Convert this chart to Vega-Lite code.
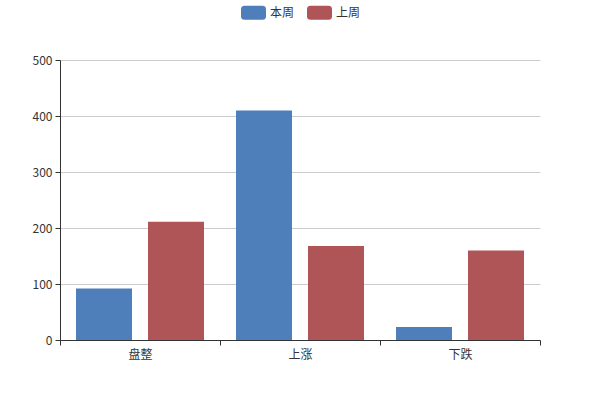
{
  "$schema": "https://vega.github.io/schema/vega-lite/v6.json",
  "width": 480,
  "height": 280,
  "padding": {"left": 60, "top": 60, "right": 60, "bottom": 60},
  "autosize": {"type": "none"},
  "background": "#ffffff",
  "config": {
    "view": {"stroke": null},
    "font": "Noto Sans CJK SC",
    "axis": {"labelFont": "Noto Sans CJK SC", "labelFontSize": 12, "labelColor": "#333333", "domainColor": "#333333", "tickColor": "#333333", "tickSize": 5}
  },
  "data": {
    "values": [
      {"category": "盘整", "series": "本周", "value": 92},
      {"category": "盘整", "series": "上周", "value": 211},
      {"category": "上涨", "series": "本周", "value": 410},
      {"category": "上涨", "series": "上周", "value": 168},
      {"category": "下跌", "series": "本周", "value": 23},
      {"category": "下跌", "series": "上周", "value": 160}
    ]
  },
  "mark": {"type": "bar"},
  "encoding": {
    "x": {
      "field": "category",
      "type": "nominal",
      "sort": ["盘整", "上涨", "下跌"],
      "scale": {"paddingInner": 0, "paddingOuter": 0},
      "axis": {"title": null, "labelAngle": 0, "tickBand": "extent", "labelPadding": 4, "grid": false}
    },
    "xOffset": {
      "field": "series",
      "type": "nominal",
      "sort": ["本周", "上周"],
      "scale": {"paddingInner": 0.2222, "paddingOuter": 0.2222}
    },
    "y": {
      "field": "value",
      "type": "quantitative",
      "scale": {"domain": [0, 500], "nice": false},
      "axis": {"title": null, "values": [0, 100, 200, 300, 400, 500], "gridColor": "#cccccc", "labelPadding": 3}
    },
    "color": {
      "field": "series",
      "type": "nominal",
      "sort": ["本周", "上周"],
      "scale": {"domain": ["本周", "上周"], "range": ["#4e7fbb", "#af5558"]},
      "legend": {
        "title": null,
        "orient": "none",
        "direction": "horizontal",
        "legendX": 181,
        "legendY": -60,
        "symbolType": "M-0.72,-0.56 L0.72,-0.56 Q1,-0.56 1,-0.28 L1,0.28 Q1,0.56 0.72,0.56 L-0.72,0.56 Q-1,0.56 -1,0.28 L-1,-0.28 Q-1,-0.56 -0.72,-0.56 Z",
        "symbolSize": 625,
        "symbolStrokeWidth": 0,
        "symbolOpacity": 1,
        "labelFontSize": 12,
        "labelColor": "#333333",
        "labelFont": "Noto Sans CJK SC",
        "labelOffset": 4,
        "columnPadding": 12
      }
    }
  }
}
